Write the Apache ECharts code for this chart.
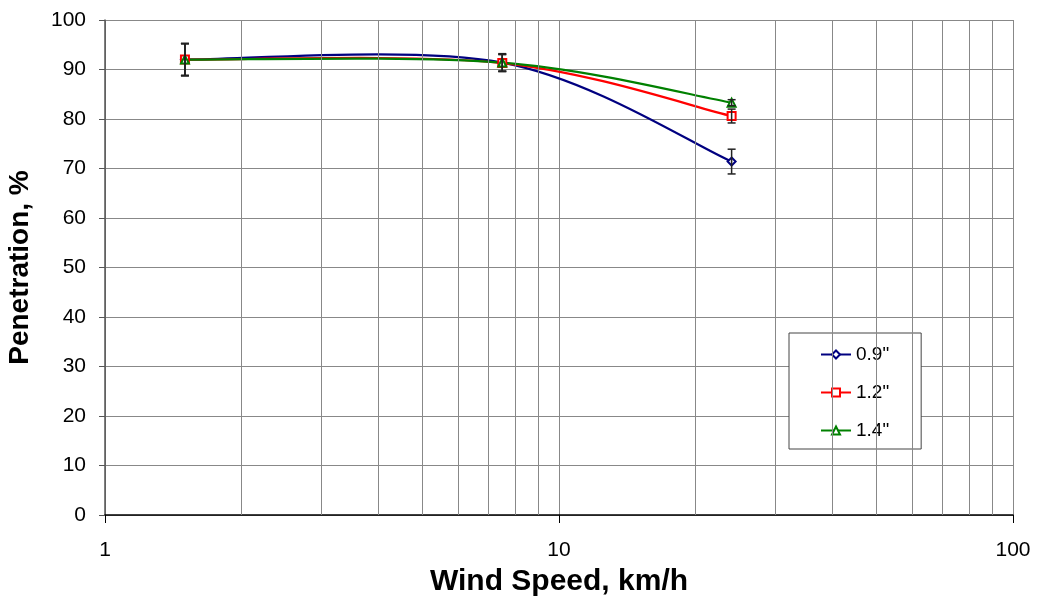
<!DOCTYPE html>
<html>
<head>
<meta charset="utf-8">
<script src="https://cdn.jsdelivr.net/npm/echarts@6/dist/echarts.min.js"></script>
<style>
  html, body { margin: 0; padding: 0; background: #fff; }
  #char { width: 1038px; height: 602px; }
</style>
</head>
<body>
<div id="char"></div>
<script>
// wind speed, km/h
var speeds = [1.5, 7.5, 24];
var names = ['0.9"', '1.2"', '1.4"'];
// penetration, %
var pen09 = [92, 91.4, 71.4];
var pen12 = [92, 91.3, 80.6];
var pen14 = [92, 91.4, 83.3];
// +/- error
var err09 = [3.3, 1.8, 2.5];
var err12 = [3.2, 1.7, 1.4];
var err14 = [3.2, 1.7, 0.6];
// minor vertical grid lines
var minorX = [2, 3, 4, 5, 6, 7, 8, 9, 20, 30, 40, 50, 60, 70, 80, 90];

var font = "Liberation Sans";

function pairs(vals) {
  return speeds.map(function (x, i) { return [x, vals[i]]; });
}
function bars(vals, err) {
  return speeds.map(function (x, i) { return [x, vals[i] - err[i], vals[i] + err[i]]; });
}

function renderErr(params, api) {
  var lo = api.coord([api.value(0), api.value(1)]);
  var hi = api.coord([api.value(0), api.value(2)]);
  var w = 4;
  var st = { stroke: "#222", lineWidth: 1.5 };
  return {
    type: "group",
    children: [
      { type: "line", shape: { x1: lo[0], y1: lo[1], x2: hi[0], y2: hi[1] }, style: st },
      { type: "line", shape: { x1: lo[0] - w, y1: lo[1], x2: lo[0] + w, y2: lo[1] }, style: st },
      { type: "line", shape: { x1: hi[0] - w, y1: hi[1], x2: hi[0] + w, y2: hi[1] }, style: st }
    ]
  };
}

// spreadsheet-style smoothed line (no overshoot clamp like echarts' own smooth)
function curveRender(vals, color) {
  return function (params, api) {
    var n = vals.length;
    var i = params.dataIndex;
    if (i >= n - 1) return null;
    var pt = function (k) { return api.coord([speeds[k], vals[k]]); };
    var p1 = pt(i), p2 = pt(i + 1);
    var p0 = i > 0 ? pt(i - 1) : p1;
    var p3 = i + 2 < n ? pt(i + 2) : p2;
    return {
      type: "bezierCurve",
      shape: {
        x1: p1[0], y1: p1[1], x2: p2[0], y2: p2[1],
        cpx1: p1[0] + (p2[0] - p0[0]) / 6, cpy1: p1[1] + (p2[1] - p0[1]) / 6,
        cpx2: p2[0] - (p3[0] - p1[0]) / 6, cpy2: p2[1] - (p3[1] - p1[1]) / 6
      },
      style: { stroke: color, lineWidth: 2.2, fill: null }
    };
  };
}

function lineSeries(name, vals, color, symbol) {
  return {
    name: name,
    type: "line",
    data: pairs(vals),
    symbol: symbol,
    symbolSize: 8,
    color: color,
    lineStyle: { color: color, width: 2, opacity: 0 },
    itemStyle: { color: color, borderWidth: 1 },
    z: 3
  };
}

function curveSeries(vals, color) {
  return { type: "custom", renderItem: curveRender(vals, color), data: pairs(vals), z: 2, silent: true };
}

function errSeries(vals, err) {
  return { type: "custom", renderItem: renderErr, data: bars(vals, err), z: 4, silent: true };
}

var option = {
  animation: false,
  backgroundColor: "#fff",
  textStyle: { fontFamily: font },
  grid: { left: 105, right: 25, top: 20, bottom: 87, containLabel: false, outerBoundsMode: "none" },
  legend: {
    orient: "vertical",
    left: 789,
    top: 333,
    padding: [12, 32, 9, 31],
    itemGap: 19,
    itemWidth: 30,
    itemHeight: 10,
    backgroundColor: "#fff",
    borderColor: "#444",
    borderWidth: 1,
    data: names,
    lineStyle: { opacity: 1, width: 2 },
    textStyle: { fontSize: 19, color: "#000", fontFamily: font }
  },
  xAxis: {
    type: "log",
    logBase: 10,
    min: 1,
    max: 100,
    name: "Wind Speed, km/h",
    nameLocation: "middle",
    nameGap: 52,
    nameTextStyle: { fontSize: 30, fontWeight: "bold", color: "#000", fontFamily: font },
    axisLine: { lineStyle: { color: "#000", width: 1.5 } },
    axisTick: { show: true, length: 8, inside: false, lineStyle: { color: "#000" } },
    axisLabel: { fontSize: 21, color: "#000", margin: 25, fontFamily: font },
    splitLine: { show: true, lineStyle: { color: "#888", width: 1 } }
  },
  yAxis: {
    type: "value",
    min: 0,
    max: 100,
    interval: 10,
    name: "Penetration, %",
    nameLocation: "middle",
    nameGap: 71,
    nameTextStyle: { fontSize: 28, fontWeight: "bold", color: "#000", fontFamily: font },
    axisLine: { show: true, lineStyle: { color: "#555", width: 1.5 } },
    axisTick: { show: true, length: 6, lineStyle: { color: "#555" } },
    axisLabel: { fontSize: 21, color: "#000", margin: 19, fontFamily: font },
    splitLine: { show: true, lineStyle: { color: "#888", width: 1 } }
  },
  series: [
    {
      name: "grid",
      type: "line",
      data: [],
      silent: true,
      z: 1,
      markLine: {
        silent: true,
        symbol: ["none", "none"],
        label: { show: false },
        lineStyle: { color: "#888", width: 1, type: "solid" },
        data: minorX.map(function (v) { return { xAxis: v }; })
      }
    },
    curveSeries(pen09, "#000080"),
    curveSeries(pen12, "#ff0000"),
    curveSeries(pen14, "#008000"),
    lineSeries(names[0], pen09, "#000080", "emptyDiamond"),
    lineSeries(names[1], pen12, "#ff0000", "emptyRect"),
    lineSeries(names[2], pen14, "#008000", "emptyTriangle"),
    errSeries(pen09, err09),
    errSeries(pen12, err12),
    errSeries(pen14, err14)
  ]
};

var myChart = echarts.init(document.getElementById("char"));
myChart.setOption(option);
</script>
</body>
</html>
